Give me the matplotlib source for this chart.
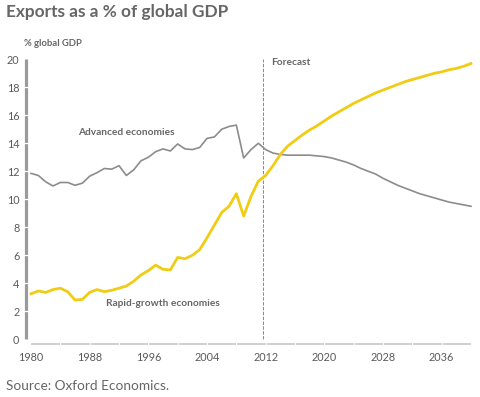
import matplotlib
matplotlib.use("Agg")
import matplotlib.pyplot as plt
import matplotlib.transforms as mtransforms

plt.rcParams["font.family"] = ["Lato", "DejaVu Sans"]

years = list(range(1980, 2041))

advanced = [
    11.85, 11.7, 11.25, 10.95, 11.2, 11.2, 11.0, 11.15, 11.65, 11.9,
    12.2, 12.15, 12.4, 11.7, 12.1, 12.75, 13.0, 13.4, 13.6, 13.45,
    13.95, 13.6, 13.55, 13.7, 14.35, 14.45, 15.0, 15.2, 15.3, 12.95,
    13.55, 14.0, 13.55, 13.3,
    13.2, 13.15, 13.15, 13.15, 13.15, 13.1, 13.05, 12.95, 12.8, 12.65,
    12.45, 12.2, 12.0, 11.8, 11.5, 11.25, 11.0, 10.8, 10.6, 10.4,
    10.25, 10.1, 9.95, 9.8, 9.7, 9.6, 9.5,
]

rapid = [
    3.25, 3.45, 3.35, 3.55, 3.65, 3.4, 2.8, 2.85, 3.35, 3.55,
    3.4, 3.5, 3.65, 3.8, 4.15, 4.6, 4.9, 5.3, 5.0, 4.95,
    5.85, 5.75, 6.0, 6.4, 7.25, 8.15, 9.05, 9.5, 10.4, 8.8,
    10.2, 11.3, 11.7, 12.4,
    13.2, 13.8, 14.2, 14.6, 14.95, 15.25, 15.6, 15.95, 16.25, 16.55,
    16.85, 17.1, 17.35, 17.6, 17.8, 18.0, 18.2, 18.4, 18.55, 18.7,
    18.85, 19.0, 19.1, 19.25, 19.35, 19.5, 19.7,
]

x_ticks = list(range(1980, 2040, 8))
y_ticks = list(range(0, 21, 2))
forecast_start = 2011.7

W, H = 481, 397
fig = plt.figure(figsize=(W / 100, H / 100), dpi=100)
ax = fig.add_axes([25 / W, (H - 346) / H, (474 - 25) / W, (346 - 59) / H])
ax.set_xlim(1979.18, 2040.41)
ax.set_ylim(-0.48, 20.02)
for s in ax.spines.values():
    s.set_visible(False)

text_grey = "#666666"
ax.set_xticks(x_ticks)
ax.set_yticks(y_ticks)
ax.tick_params(axis="both", length=0, labelsize=7.8, labelcolor="#5a5a5a")
ax.tick_params(axis="y", pad=4)
ax.tick_params(axis="x", pad=4.5)

# y axis bar with white notches at ticks
bar_tr = mtransforms.blended_transform_factory(ax.transAxes, ax.transData)
ax.plot([0.0025, 0.0025], [0, 20], color="#9a9a9a", lw=2.3, transform=bar_tr,
        clip_on=False, solid_capstyle="butt", zorder=3)
for t in y_ticks[1:-1]:
    ax.plot([-0.01, 0.02], [t, t], color="white", lw=0.9, transform=bar_tr,
            clip_on=False, zorder=4)

# x axis line with notches
ax.plot([1980, 2040], [-0.34, -0.34], color="#cccccc", lw=1.3, clip_on=False,
        solid_capstyle="butt", zorder=1)
for yr in range(1984, 2040, 4):
    ax.plot([yr, yr], [-0.48, -0.2], color="white", lw=0.8, clip_on=False, zorder=1.5)

ax.plot([forecast_start, forecast_start], [0, 20], color="#888888", lw=0.7,
        dashes=(3.5, 1.5), zorder=2)

ax.plot(years, advanced, color="#8c8c8c", lw=1.2, zorder=3)
ax.plot(years, rapid, color="#f0cd14", lw=2.0, zorder=4)

ax.text(1986.4, 14.74, "Advanced economies", fontsize=7.3, fontweight="bold",
        color=text_grey, ha="left", va="center")
ax.text(1990.2, 2.52, "Rapid-growth economies", fontsize=7.3, fontweight="bold",
        color=text_grey, ha="left", va="center")
ax.text(2012.7, 19.8, "Forecast", fontsize=7.3, fontweight="bold",
        color=text_grey, ha="left", va="center")

fig.text(6 / W, 1 - 12 / H, "Exports as a % of global GDP", fontsize=12.4,
         fontweight="bold", color=text_grey, ha="left", va="center")
fig.text(24 / W, 1 - 44 / H, "% global GDP", fontsize=6.8, fontweight="bold",
         color=text_grey, ha="left", va="center")
fig.text(6 / W, 1 - 386 / H, "Source: Oxford Economics.", fontsize=9.8,
         color=text_grey, ha="left", va="center")

fig.savefig("out.png", dpi=100)
